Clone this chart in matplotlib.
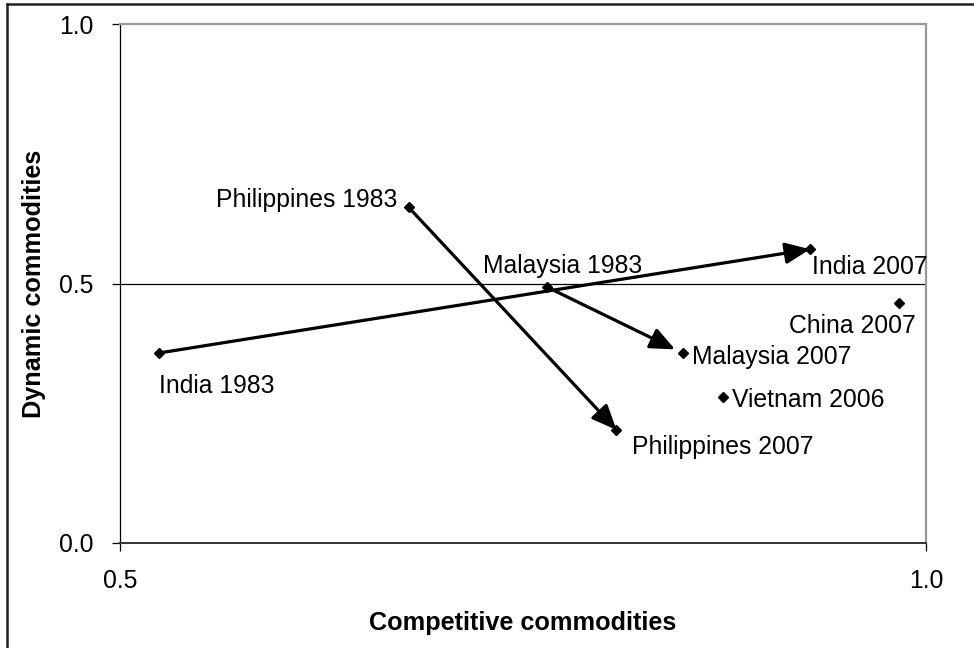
import numpy as np
import matplotlib.pyplot as plt
from matplotlib.lines import Line2D

plt.rcParams['font.family'] = ['Liberation Sans', 'DejaVu Sans']

# points (competitive, dynamic)
labels = ['India 1983', 'India 2007', 'Philippines 1983', 'Philippines 2007',
          'Malaysia 1983', 'Malaysia 2007', 'Vietnam 2006', 'China 2007']
comp = [0.524, 0.928, 0.679, 0.808, 0.765, 0.849, 0.874, 0.983]
dyn = [0.366, 0.566, 0.647, 0.218, 0.493, 0.366, 0.281, 0.462]

# label offsets in points and alignment
offsets = [(0, -24), (1.5, -13), (-8, 5), (11, -12), (-46, 15), (6.5, -3), (6.5, -2), (12, -16.5)]
aligns = ['left', 'left', 'right', 'left', 'left', 'left', 'left', 'right']

# arrows: (from, to) as index into the lists above
arrows = [(0, 1), (2, 3), (4, 5)]

fig = plt.figure(figsize=(9.74, 6.48), dpi=100)
ax = fig.add_axes([120/974, 1-543/648, 806/974, 519/648])

ax.plot(comp, dyn, linestyle='none', marker='D', markersize=5, color='black', zorder=3)

for (a, b) in arrows:
    shrink = 6 if labels[b].startswith('Malaysia') else 0
    ax.annotate('', xy=(comp[b], dyn[b]), xytext=(comp[a], dyn[a]),
                arrowprops=dict(arrowstyle='-|>,head_length=1.5,head_width=0.65',
                                color='black', lw=2.3, shrinkA=0, shrinkB=shrink),
                zorder=4)

for i, lab in enumerate(labels):
    dx, dy = offsets[i]
    ax.annotate(lab, (comp[i], dyn[i]), xytext=(dx, dy), textcoords='offset points',
                ha=aligns[i], va='center', fontsize=17.8)

ax.axhline(0.5, color='black', lw=0.9, zorder=1)

ax.set_xlim(0.5, 1.0)
ax.set_ylim(0.0, 1.0)
ax.set_xticks([0.5, 1.0])
ax.set_yticks([0.0, 0.5, 1.0])
ax.set_xticklabels(['0.5', '1.0'])
ax.set_yticklabels(['0.0', '0.5', '1.0'])
ax.tick_params(axis='both', labelsize=17.8, length=5.8, width=0.9, color='black')
ax.tick_params(axis='x', direction='out', pad=13)
ax.tick_params(axis='y', direction='out', pad=13.5)

ax.spines['top'].set_color('#999999')
ax.spines['right'].set_color('#999999')
ax.spines['top'].set_linewidth(1.6)
ax.spines['right'].set_linewidth(1.6)
ax.spines['left'].set_linewidth(0.9)
ax.spines['bottom'].set_linewidth(1.4)
ax.spines['bottom'].set_color('#333333')

ax.set_xlabel('Competitive commodities', fontsize=18.2, fontweight='bold', labelpad=13)
ax.set_ylabel('Dynamic commodities', fontsize=18.2, fontweight='bold', labelpad=9)

# outer frame (only top and left visible)
fig.add_artist(Line2D([7/974, 7/974], [0, 1-4/648], color='#222222', lw=1.8))
fig.add_artist(Line2D([7/974, 1], [1-4/648, 1-4/648], color='#222222', lw=1.8))

fig.savefig('out.png', dpi=100)
